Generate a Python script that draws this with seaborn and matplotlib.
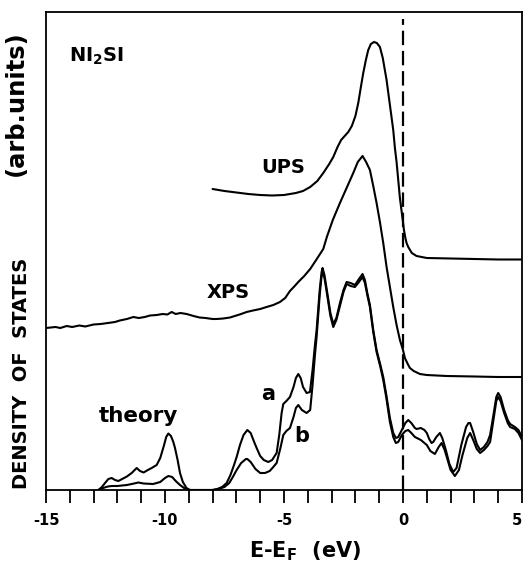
import matplotlib
matplotlib.use("Agg")
import matplotlib.pyplot as plt
import seaborn as sns
import pandas as pd
from matplotlib.ticker import MultipleLocator

# Photoemission spectra and calculated density of states for Ni2Si
ups_e = [-8.0, -7.5, -7.0, -6.5, -6.0, -5.5, -5.0, -4.5, -4.2, -3.9, -3.6, -3.35, -3.1,
         -2.93, -2.75, -2.6, -2.45, -2.3, -2.15, -2.0, -1.88, -1.77, -1.67, -1.56, -1.46,
         -1.35, -1.22, -1.1, -0.97, -0.85, -0.69, -0.55, -0.41, -0.34, -0.27, -0.13, 0.0,
         0.04, 0.1, 0.15, 0.22, 0.37, 0.57, 1.0, 2.0, 3.0, 4.0, 5.0]
ups_v = [301, 299, 297.5, 296, 295, 294.5, 295, 297, 299, 303, 309, 317, 326,
         333, 343, 350, 354, 358, 364, 374, 387, 403, 417, 430, 440,
         446, 448, 447, 443, 432, 410, 385, 360, 342, 328, 292, 268,
         260, 252, 247, 243, 237, 234, 232, 231.5, 231, 230.5, 230.5]

xps_e = [-15.0, -14.6, -14.4, -14.13, -13.9, -13.6, -13.35, -13.0, -12.7, -12.4, -12.1,
         -11.9, -11.6, -11.33, -11.1, -10.85, -10.63, -10.35, -10.1, -9.9, -9.72, -9.55,
         -9.35, -9.09, -8.8, -8.55, -8.3, -8.0, -7.83, -7.55, -7.27, -7.0, -6.8, -6.57,
         -6.3, -6.0, -5.73, -5.45, -5.17, -4.95, -4.75, -4.55, -4.4, -4.15, -3.9, -3.65,
         -3.35, -3.2, -2.95, -2.65, -2.37, -2.09, -1.9, -1.7, -1.55, -1.39, -1.25, -1.11,
         -0.97, -0.83, -0.69, -0.55, -0.41, -0.27, -0.13, 0.0, 0.08, 0.2, 0.29, 0.45,
         0.71, 1.0, 1.83, 3.0, 4.0, 5.0]
xps_v = [162, 163, 162, 164, 163, 164.5, 163.5, 165.5, 166, 167, 168,
         169.5, 171, 173, 172, 173, 174.5, 175, 176, 175.5, 178, 176,
         177, 176, 174, 172.5, 172, 171, 171, 171.5, 172.5, 174.5, 176, 178,
         179.5, 181, 183, 185, 188, 192, 199, 204, 208, 214, 221, 230,
         241, 253, 270, 287, 302, 317, 328, 334, 328, 320, 304, 287,
         268, 247, 223, 203, 183, 165, 150, 140, 132, 126, 122, 119,
         116, 115, 114, 113.5, 113, 113]

theory_a_e = [-12.8, -12.65, -12.52, -12.38, -12.24, -12.1, -11.96, -11.8, -11.6, -11.4,
              -11.19, -11.05, -10.9, -10.72, -10.56, -10.35, -10.2, -10.05, -9.95, -9.86,
              -9.75, -9.65, -9.58, -9.47, -9.37, -9.25, -9.1, -8.95, -8.0, -7.8, -7.6,
              -7.41, -7.25, -7.1, -6.99, -6.85, -6.7, -6.54, -6.4, -6.27, -6.15, -6.0,
              -5.85, -5.66, -5.5, -5.31, -5.2, -5.1, -5.03, -4.9, -4.75, -4.6, -4.5, -4.4,
              -4.3, -4.2, -4.05, -3.91, -3.8, -3.7, -3.63, -3.5, -3.42, -3.38, -3.3, -3.2,
              -3.05, -2.93, -2.8, -2.65, -2.5, -2.37, -2.2, -2.02, -1.85, -1.7, -1.6, -1.5,
              -1.39, -1.25, -1.11, -0.95, -0.83, -0.7, -0.55, -0.41, -0.3, -0.2, -0.05,
              0.1, 0.22, 0.35, 0.5, 0.57, 0.75, 0.9, 1.0, 1.1, 1.2, 1.27, 1.4, 1.55, 1.65,
              1.8, 1.95, 2.11, 2.25, 2.45, 2.65, 2.75, 2.82, 2.95, 3.1, 3.24, 3.4, 3.55,
              3.66, 3.8, 3.92, 4.0, 4.1, 4.25, 4.4, 4.5, 4.7, 4.85, 5.0]
theory_a_v = [0, 3, 7, 11, 12, 10, 9, 11, 13.5, 17,
              22, 19, 17.5, 20, 22, 25, 32, 44, 53, 56.5,
              54, 48, 42, 30, 17, 8, 2, 0, 0, 1, 3,
              7, 15, 25, 33, 45, 55, 60, 57, 49, 42, 34,
              30, 28, 30, 37, 55, 77, 86, 89, 93, 103, 112, 116,
              112, 103, 97, 98, 120, 145, 160, 200, 218, 222, 215, 200,
              177, 166, 172, 187, 200, 208, 207, 205, 211, 216, 210, 197,
              185, 160, 140, 125, 113, 95, 72, 57, 52, 53, 60,
              67, 70, 67, 62, 61, 62, 60, 57, 51, 47, 48, 53, 57, 52,
              40, 26, 18, 22, 45, 63, 67, 67, 58, 46, 40, 43, 48,
              55, 75, 93, 97, 93, 80, 70, 66, 63, 60, 53]

theory_b_e = [-12.8, -12.6, -12.4, -12.24, -12.0, -11.6, -11.3, -11.12, -10.9, -10.5,
              -10.2, -10.0, -9.86, -9.7, -9.55, -9.37, -9.2, -9.0, -8.0, -7.75, -7.5,
              -7.3, -7.15, -6.99, -6.8, -6.6, -6.54, -6.4, -6.2, -6.0, -5.8, -5.6, -5.45,
              -5.31, -5.15, -5.03, -4.9, -4.75, -4.6, -4.5, -4.4, -4.25, -4.05, -3.9,
              -3.8, -3.7, -3.63, -3.5, -3.42, -3.38, -3.3, -3.2, -3.05, -2.93, -2.8,
              -2.65, -2.5, -2.37, -2.2, -2.02, -1.85, -1.7, -1.6, -1.5, -1.39, -1.25,
              -1.11, -0.95, -0.83, -0.7, -0.55, -0.41, -0.3, -0.2, -0.05, 0.1, 0.22,
              0.35, 0.5, 0.75, 1.0, 1.15, 1.34, 1.5, 1.62, 1.75, 1.9, 2.0, 2.18, 2.35,
              2.5, 2.7, 2.82, 2.95, 3.1, 3.24, 3.4, 3.55, 3.66, 3.8, 3.92, 4.0, 4.1,
              4.25, 4.4, 4.5, 4.7, 4.85, 5.0]
theory_b_v = [0, 2, 3.5, 4, 4, 5, 6.5, 7.5, 6.5, 6,
              8, 12, 14, 13, 9, 5, 2, 0, 0, 1, 3,
              7, 13, 20, 27, 31, 31, 28, 21, 17, 17, 19, 23,
              27, 42, 55, 59, 62, 73, 82, 85, 80, 77, 80,
              105, 135, 153, 195, 214, 218, 212, 197, 174, 163, 170,
              184, 198, 206, 204, 203, 208, 213, 207, 195, 183, 158,
              138, 123, 110, 92, 68, 53, 47, 48, 55, 59, 60,
              57, 53, 50, 45, 39, 36, 43, 47, 40, 28, 20, 14, 20,
              35, 52, 57, 50, 41, 37, 40, 44, 48, 70, 89, 93, 89,
              77, 67, 63, 61, 57, 50]

x_ticks = [-15, -10, -5, 0, 5]

sns.set_theme(style="white")
plt.rcParams["font.family"] = ["DejaVu Sans"]
plt.rcParams["font.weight"] = "bold"
plt.rcParams["mathtext.default"] = "bf"
plt.rcParams["axes.unicode_minus"] = False
plt.rcParams["text.color"] = "black"
plt.rcParams["axes.labelcolor"] = "black"
plt.rcParams["xtick.color"] = "black"

fig = plt.figure(figsize=(5.25, 5.63), dpi=100)
ax = fig.add_axes([46 / 525, 73 / 563, 476 / 525, 478 / 563])

curves = [
    (ups_e, ups_v),
    (xps_e, xps_v),
    (theory_a_e, theory_a_v),
    (theory_b_e, theory_b_v),
]
for xs, ys in curves:
    df = pd.DataFrame({"E": xs, "DOS": ys})
    sns.lineplot(data=df, x="E", y="DOS", ax=ax, color="black", lw=1.5,
                 sort=False, estimator=None)

ax.axvline(0, color="black", lw=1.6, ls=(0, (6.5, 2.6)), ymax=0.985)

ax.set_xlim(-15, 5)
ax.set_ylim(0, 478)
ax.xaxis.set_minor_locator(MultipleLocator(1))
ax.set_xticks(x_ticks)
ax.set_yticks([])
ax.tick_params(axis="x", which="both", direction="out", length=9.5, width=1.3,
               color="black", bottom=True, top=False)
ax.tick_params(axis="x", which="major", pad=7, labelsize=10.5, labelcolor="black")
for lbl in ax.get_xticklabels():
    lbl.set_fontweight("bold")
# keep the last label inside the canvas
ax.get_xticklabels()[-1].set_horizontalalignment("right")

for side in ax.spines.values():
    side.set_color("black")
    side.set_linewidth(1.3)

ax.set_xlabel("E-E$_F$  (eV)", fontsize=15, fontweight="bold", color="black")
ax.xaxis.set_label_coords(0.544, -0.142)
ax.xaxis.label.set_va("baseline")

ax.set_ylabel("DENSITY  OF  STATES", fontsize=14, fontweight="bold",
              color="black", va="center")
ax.yaxis.set_label_coords(-0.0525, 0.245)
ax.text(-0.063, 0.81, "(arb.units)", transform=ax.transAxes, rotation=90,
        fontsize=17.5, fontweight="bold", ha="center", va="center", clip_on=False)

ax.text(-14.05, 428, "NI$_2$SI", fontsize=14, fontweight="bold", ha="left", va="baseline")
ax.text(-5.04, 317, "UPS", fontsize=14, fontweight="bold", ha="center", va="baseline")
ax.text(-7.35, 192, "XPS", fontsize=14, fontweight="bold", ha="center", va="baseline")
ax.text(-11.13, 68, "theory", fontsize=15.5, fontweight="bold", ha="center", va="baseline")
ax.text(-5.67, 90, "a", fontsize=15, fontweight="bold", ha="center", va="baseline")
ax.text(-4.24, 48, "b", fontsize=15, fontweight="bold", ha="center", va="baseline")

fig.savefig("out.png", dpi=100, facecolor="white")
